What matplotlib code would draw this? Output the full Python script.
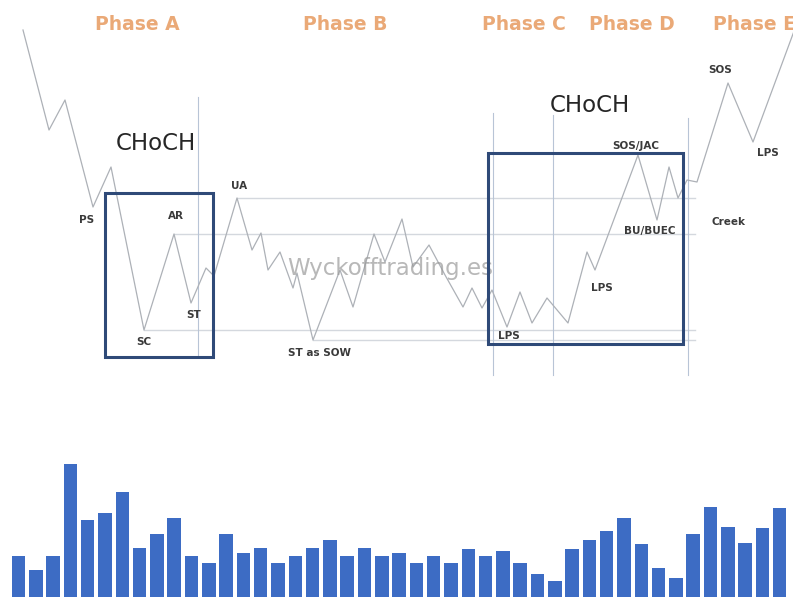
import matplotlib
matplotlib.use("Agg")
import matplotlib.pyplot as plt
from matplotlib.patches import Rectangle

# price path of the accumulation schematic (time, price)
price_t = [23, 49, 65, 93, 111, 144, 174, 191, 206, 214, 237, 252, 261, 268, 280, 293, 297,
           313, 340, 353, 374, 385, 402, 413, 429, 445, 463, 472, 482, 492, 507, 520, 532,
           547, 568, 587, 595, 638, 657, 669, 678, 687, 697, 728, 753, 800]
price_v = [370, 270, 300, 193, 233, 70, 166, 97, 132, 124, 202, 150, 167, 130, 148, 112, 127,
           60, 130, 93, 166, 138, 181, 133, 155, 125, 93, 112, 92, 110, 73, 108, 77,
           102, 77, 148, 130, 245, 180, 233, 202, 220, 218, 317, 258, 385]

# support / resistance levels: (price, start, end)
levels = [(202, 237, 695), (166, 174, 695), (70, 144, 695), (60, 313, 695)]

# phase separators: (time, top, bottom)
separators = [(198, 303, 43), (493, 287, 25), (553, 285, 25), (688, 282, 25)]

# CHoCH boxes: (t0, t1, p_low, p_high)
boxes = [(105, 213, 43, 207), (488, 683, 56, 247)]

# event labels (text, time, price)
events = [("PS", 87, 180), ("AR", 176, 184), ("SC", 144, 58), ("ST", 194, 85),
          ("UA", 239, 214), ("ST as SOW", 320, 47), ("LPS", 509, 64), ("LPS", 602, 112),
          ("BU/BUEC", 650, 169), ("SOS/JAC", 636, 254), ("Creek", 729, 178),
          ("SOS", 720, 330), ("LPS", 768, 247)]

phases = [("Phase A", 137), ("Phase B", 345), ("Phase C", 524), ("Phase D", 632)]
choch = [(156, 257), (590, 294)]

# volume bars
volume = [41, 27, 41, 133, 77, 84, 105, 49, 63, 79, 41, 34, 63, 44, 49, 34, 41, 49, 57, 41,
          49, 41, 44, 34, 41, 34, 48, 41, 46, 34, 23, 16, 48, 57, 66, 79, 53, 29, 19, 63,
          90, 70, 54, 69, 89]

fig = plt.figure(figsize=(7.93, 5.97), dpi=100)

ax = fig.add_axes([0, 0, 1, 1])
ax.set_xlim(0, 793)
ax.set_ylim(-197, 400)
ax.axis("off")

for p, a, b in levels:
    ax.plot([a, b], [p, p], color="#d4d8de", lw=1.0, zorder=1)
for t, top, bot in separators:
    ax.plot([t, t], [bot, top], color="#b8c4d6", lw=0.8, zorder=1)
for t0, t1, lo, hi in boxes:
    ax.add_patch(Rectangle((t0, lo), t1 - t0, hi - lo, fill=False,
                           edgecolor="#2f4a78", lw=2.2, zorder=3))

ax.plot(price_t, price_v, color="#adb1b7", lw=0.9, zorder=2)

ax.text(390, 132, "Wyckofftrading.es", fontsize=16.5, color="#9a9a9a", alpha=0.7,
        ha="center", va="center", zorder=2)

for txt, t, p in events:
    ax.text(t, p, txt, fontsize=7.5, fontweight="bold", color="#3a3a3a",
            ha="center", va="center", zorder=4)

for txt, t in phases:
    ax.text(t, 375, txt, fontsize=13.5, fontweight="bold", color="#eaa977",
            ha="center", va="center")
ax.text(713, 375, "Phase E", fontsize=13.5, fontweight="bold", color="#eaa977",
        ha="left", va="center")

for t, p in choch:
    ax.text(t, p, "CHoCH", fontsize=16.5, color="#262626", ha="center", va="center")

# volume panel
axv = fig.add_axes([0, 0, 1, 157 / 597])
axv.bar(range(len(volume)), volume, width=0.78, color="#3d6cc4")
axv.set_xlim(-1.07, 44.77)
axv.set_ylim(0, 157)
axv.axis("off")

fig.savefig("out.png", dpi=100)
